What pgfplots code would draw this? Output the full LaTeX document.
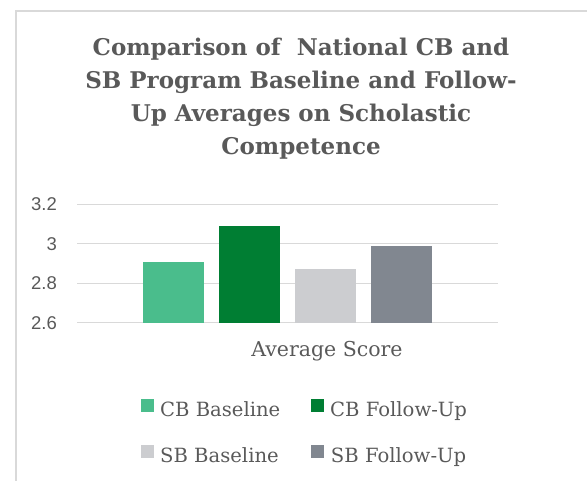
\documentclass[border=0pt]{standalone}
\usepackage{pgfplots}
\pgfplotsset{compat=1.18}
\usepackage{fontspec}
\setmainfont{DejaVu Serif}
\newfontfamily\tickfont{Liberation Sans}
\definecolor{cbbase}{HTML}{4ABD8C}
\definecolor{cbfu}{HTML}{007E33}
\definecolor{sbbase}{HTML}{CCCDD0}
\definecolor{sbfu}{HTML}{818790}
\definecolor{txtgray}{HTML}{595959}
\definecolor{gridgray}{HTML}{D9D9D9}
\begin{document}
\begin{tikzpicture}[x=1pt,y=1pt]
\useasboundingbox (0,0) rectangle (587,480);
\begin{scope}
\clip (0,0) rectangle (587,480);
\draw[color=gridgray, line width=1.3pt] (16,-10) -- (16,469) -- (600,469);
\end{scope}
\node[align=center, inner sep=0pt, anchor=north, text=txtgray,
      font=\fontsize{23}{33}\selectfont\bfseries] at (301,442)
  {Comparison of~~National CB and\\SB Program Baseline and Follow-\\Up Averages on Scholastic\\Competence};
\begin{axis}[
  at={(77pt,157.3pt)}, anchor=south west,
  scale only axis, width=421pt, height=118.4pt,
  xmin=-210.5, xmax=210.5, ymin=2.6, ymax=3.2,
  ytick={2.6,2.8,3,3.2}, yticklabels={2.6,2.8,3,3.2},
  xtick=\empty,
  ymajorgrids, major grid style={gridgray, line width=1.4pt},
  axis line style={draw=none}, tick style={draw=none},
  yticklabel style={font=\tickfont\fontsize{18.5}{20}\selectfont, text=txtgray, inner sep=0pt, xshift=-20pt},
  /pgf/number format/assume math mode=true,
  ybar=15.3pt, bar width=61pt,
  legend columns=2,
  legend style={at={(0.152,-0.64)}, anchor=north west, draw=none, fill=none,
    inner sep=0pt, row sep=23.7pt,
    nodes={inner sep=0pt, text height=14pt, text depth=5pt, text=txtgray},
    font=\fontsize{19.6}{22}\selectfont},
  /tikz/every odd column/.append style={column sep=6pt},
  legend image code/.code={\fill[#1] (0pt,0pt) rectangle (13pt,13pt);},
]
\addplot[fill=cbbase, draw=none] coordinates {(0,2.91)};
\addplot[fill=cbfu, draw=none] coordinates {(0,3.09)};
\addplot[fill=sbbase, draw=none] coordinates {(0,2.87)};
\addplot[fill=sbfu, draw=none] coordinates {(0,2.99)};
\legend{\makebox[151pt][l]{CB Baseline}, CB Follow-Up, \makebox[151pt][l]{SB Baseline}, SB Follow-Up}
\end{axis}
\node[anchor=base, inner sep=0pt, text=txtgray, font=\fontsize{20.5}{22}\selectfont] at (327,123) {Average Score};
\end{tikzpicture}
\end{document}
